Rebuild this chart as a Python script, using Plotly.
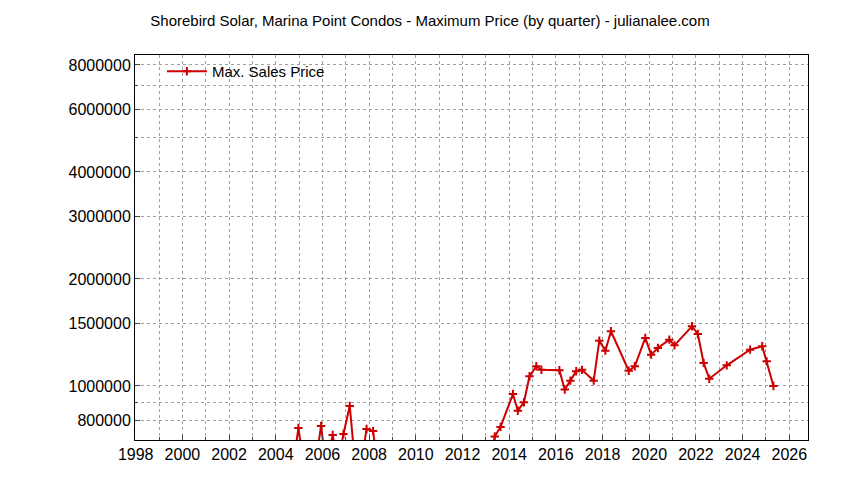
import plotly.graph_objects as go

# quarterly max sales price (decimal year); values under the axis floor are clipped
years = [2004.75, 2004.97, 2005.2, 2005.7, 2005.94, 2006.15, 2006.44, 2006.65,
         2006.9, 2007.17, 2007.4, 2007.65, 2007.89, 2008.17, 2008.35, 2013.2,
         2013.38, 2013.63, 2014.16, 2014.37, 2014.63, 2014.87, 2015.16, 2015.38,
         2016.15, 2016.38, 2016.62, 2016.87, 2017.12, 2017.62, 2017.86, 2018.12,
         2018.36, 2019.12, 2019.38, 2019.83, 2020.08, 2020.37, 2020.86, 2021.08,
         2021.83, 2022.08, 2022.33, 2022.57, 2023.32, 2024.32, 2024.84, 2025.03,
         2025.32]
prices = [600000, 762000, 600000, 600000, 772000, 600000, 728000, 600000,
          733000, 879000, 600000, 600000, 757000, 747000, 600000, 600000,
          721000, 767000, 949000, 852000, 900000, 1065000, 1136000, 1111000,
          1107000, 977000, 1035000, 1100000, 1110000, 1035000, 1341000, 1257000,
          1425000, 1104000, 1136000, 1365000, 1225000, 1279000, 1350000, 1301000,
          1472000, 1400000, 1161000, 1048000, 1143000, 1265000, 1293000, 1173000,
          1000000]

y_ticks = [800000, 1000000, 1500000, 2000000, 3000000, 4000000, 6000000, 8000000]
y_minor = [900000, 5000000, 7000000]
x_ticks = list(range(1998, 2027, 2))
x_minor = list(range(1999, 2027, 2))

fig = go.Figure()
fig.add_trace(go.Scatter(x=years, y=prices, mode="lines+markers", name="Max. Sales Price",
                         showlegend=True,
                         line=dict(color="#cc0000", width=2),
                         marker=dict(symbol="cross-thin", size=6,
                                     line=dict(color="#cc0000", width=2))))

grid = dict(showgrid=True, gridcolor="#a0a0a0", griddash="dot", gridwidth=1)
fig.update_xaxes(range=[1997.97, 2026.8], tickvals=x_ticks, ticks="inside", ticklen=5,
                 automargin=False,
                 minor=dict(tickvals=x_minor, showgrid=True, gridcolor="#a0a0a0",
                            griddash="dot", ticks="inside", ticklen=3),
                 showline=True, linecolor="black", mirror=True, zeroline=False, **grid)
fig.update_yaxes(type="log", range=[5.848, 6.931], tickvals=y_ticks,
                 ticktext=[str(v) for v in y_ticks], ticks="inside", ticklen=5,
                 automargin=False,
                 minor=dict(tickvals=y_minor, showgrid=True, gridcolor="#a0a0a0",
                            griddash="dot", ticks="inside", ticklen=3),
                 showline=True, linecolor="black", mirror=True, **grid)

fig.update_layout(
    width=844, height=480, plot_bgcolor="white", paper_bgcolor="white",
    margin=dict(l=127, r=44, t=47, b=48, autoexpand=False),
    font=dict(family="Liberation Sans, Arial", size=16, color="black"),
    title=dict(text="Shorebird Solar, Marina Point Condos - Maximum Price (by quarter) - julianalee.com",
               x=0.5, xanchor="center", y=0.985, yanchor="top", font=dict(size=15)),
    legend=dict(x=0.04, y=1.0, xanchor="left", yanchor="top", bgcolor="rgba(0,0,0,0)",
                font=dict(size=15), itemwidth=40),
)
fig.write_html("out.html")
